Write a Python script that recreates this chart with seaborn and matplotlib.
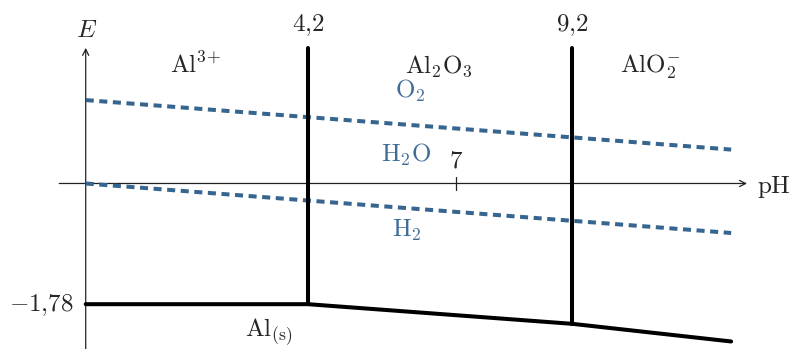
import matplotlib

matplotlib.use("Agg")

import matplotlib.pyplot as plt
import seaborn as sns

# boundary data (pH, E in V)
PH_WATER = [0.0, 12.2]
E_O2 = [1.23, 0.50]
E_H2 = [0.0, -0.73]

PH_AL = [0.0, 4.2, 9.2, 12.2]
E_AL = [-1.78, -1.78, -2.07, -2.33]

PH_LIMITS = [4.2, 9.2]
E_TOP = 2.0
E_LIMIT_BOTTOM = [-1.78, -2.07]

BLUE = "#36658f"
BLUE_TEXT = "#3f6d98"


def main() -> None:
    sns.set_theme(style="white")
    plt.rcParams["mathtext.fontset"] = "cm"
    plt.rcParams["font.family"] = ["DejaVu Sans"]

    fig = plt.figure(figsize=(7.92, 3.49), dpi=100)
    ax = fig.add_axes([0, 0, 1, 1])
    ax.set_xlim(-1.62, 13.35)
    ax.set_ylim(-2.441, 2.706)
    ax.axis("off")

    # axes with arrows
    arrow = dict(arrowstyle="->", lw=0.9, color="#222222", shrinkA=0, shrinkB=0,
                 mutation_scale=11)
    ax.annotate("", xy=(12.5, 0), xytext=(-0.5, 0), arrowprops=arrow, zorder=1)
    ax.annotate("", xy=(0, 2.0), xytext=(0, -2.6), arrowprops=arrow, zorder=1)
    ax.plot([7, 7], [0.1, -0.1], color="#222222", lw=0.9)

    # water stability lines
    for e_vals in (E_O2, E_H2):
        sns.lineplot(x=PH_WATER, y=e_vals, ax=ax, color=BLUE, lw=2.9,
                     linestyle=(0, (2.0, 1.38)), estimator=None, sort=False,
                     zorder=2)

    # aluminium boundaries
    sns.lineplot(x=PH_AL, y=E_AL, ax=ax, color="black", lw=2.9,
                 estimator=None, sort=False, zorder=3,
                 solid_joinstyle="miter")
    for ph, e_bot in zip(PH_LIMITS, E_LIMIT_BOTTOM):
        sns.lineplot(x=[ph, ph], y=[E_TOP, e_bot], ax=ax, color="black",
                     lw=2.9, estimator=None, sort=False, zorder=3)

    fs = 18
    ax.text(0.02, 2.16, r"$E$", fontsize=fs, ha="center", va="baseline")
    ax.text(12.68, -0.14, r"$\mathrm{pH}$", fontsize=fs, ha="left", va="baseline")
    ax.text(-0.22, -1.89, r"$-1{,}78$", fontsize=fs, ha="right", va="baseline")
    ax.text(7.0, 0.23, r"$7$", fontsize=fs, ha="center", va="baseline")
    for ph in PH_LIMITS:
        ax.text(ph, 2.25, rf"${str(ph).replace('.', '{,}')}$", fontsize=fs,
                ha="center", va="baseline")

    ax.text(1.59, 1.63, r"$\mathrm{Al}^{3\!+}$", fontsize=fs, ha="left",
            va="baseline")
    ax.text(6.04, 1.63, r"$\mathrm{Al}_2\mathrm{O}_3$", fontsize=fs, ha="left",
            va="baseline")
    ax.text(10.1, 1.63, r"$\mathrm{AlO}_2^{-}$", fontsize=fs, ha="left", va="baseline")
    ax.text(3.01, -2.26, r"$\mathrm{Al}_{(\mathrm{s})}$", fontsize=fs, ha="left",
            va="baseline")

    ax.text(5.85, 1.26, r"$\mathrm{O}_2$", fontsize=fs, color=BLUE_TEXT, ha="left",
            va="baseline")
    ax.text(5.58, 0.317, r"$\mathrm{H}_2\mathrm{O}$", fontsize=fs, color=BLUE_TEXT,
            ha="left", va="baseline")
    ax.text(5.78, -0.785, r"$\mathrm{H}_2$", fontsize=fs, color=BLUE_TEXT, ha="left",
            va="baseline")

    fig.savefig("out.png", dpi=100)


if __name__ == "__main__":
    main()
